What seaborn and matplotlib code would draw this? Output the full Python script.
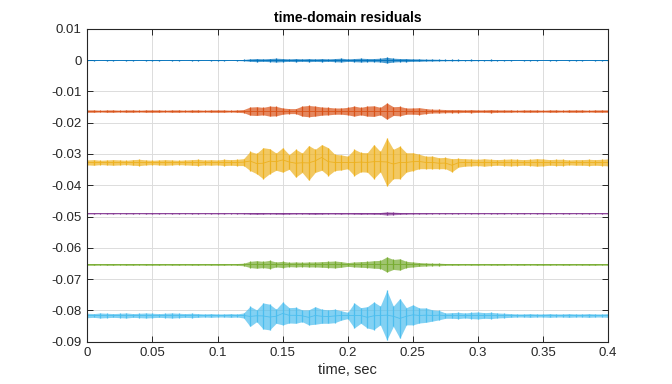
import numpy as np
import pandas as pd
import matplotlib
matplotlib.use("Agg")
import matplotlib.pyplot as plt
import seaborn as sns

# time grid of the envelope readings (every 5 ms)
t = np.linspace(0, 0.4, 81)

# trace baselines (vertical offsets)
offsets = [0.0, -0.0163, -0.0327, -0.049, -0.0653, -0.0816]
colors = ["#0072BD", "#D95319", "#EDB120", "#7E2F8E", "#77AC30", "#4DBEEE"]

# envelope half-widths, in units of 1e-3
blue_amp = ([0.15, 0.15, 0.1, 0.15, 0.15, 0.1, 0.15, 0.15, 0.1, 0.15, 0.15, 0.15,
             0.1, 0.15, 0.15, 0.1, 0.15, 0.15, 0.1, 0.15, 0.15, 0.15, 0.1, 0.15]
            + [0.2, 0.4, 0.5, 0.4, 0.5, 0.6, 0.5, 0.4, 0.5, 0.4, 0.5, 0.4, 0.5, 0.4,
               0.5, 0.6, 0.4, 0.5, 0.6, 0.5, 0.5, 0.6, 0.9, 0.6, 0.5, 0.5, 0.4, 0.4,
               0.3, 0.3, 0.25, 0.2]
            + [0.2, 0.2, 0.15, 0.2, 0.15, 0.15, 0.2, 0.15, 0.15, 0.15, 0.1, 0.15,
               0.15, 0.15, 0.1, 0.15, 0.15, 0.1, 0.15, 0.15, 0.15, 0.1, 0.15, 0.15, 0.15])

orange_amp = ([0.4, 0.4, 0.3, 0.4, 0.4, 0.3, 0.4, 0.4, 0.3, 0.4, 0.4, 0.4,
               0.3, 0.4, 0.4, 0.3, 0.4, 0.4, 0.3, 0.4, 0.4, 0.4, 0.3, 0.4]
              + [0.5, 1.3, 1.4, 1.2, 1.6, 1.5, 1.0, 0.8, 0.8, 1.6, 1.8, 1.6, 1.3, 1.2,
                 1.0, 1.0, 1.2, 1.6, 1.2, 1.6, 1.7, 1.2, 2.6, 1.4, 1.5, 1.0, 1.0, 1.1,
                 0.8, 0.6, 0.6, 0.5]
              + [0.5, 0.5, 0.4, 0.5, 0.4, 0.4, 0.5, 0.4, 0.4, 0.4, 0.3, 0.4, 0.4,
                 0.4, 0.3, 0.4, 0.4, 0.3, 0.4, 0.4, 0.4, 0.3, 0.4, 0.4, 0.4])

yellow_hi = ([0.8, 0.9, 0.7, 0.8, 0.9, 0.8, 0.7, 0.9, 1.0, 0.8, 0.7, 0.8,
              0.9, 0.8, 0.7, 0.8, 0.9, 1.0, 0.8, 0.9, 0.8, 1.0, 0.9, 1.0]
             + [1.2, 3.5, 2.9, 4.7, 4.4, 3.0, 4.7, 2.5, 4.2, 3.0, 5.4, 4.2, 5.7, 4.7,
                2.6, 2.4, 2.0, 4.2, 3.2, 3.1, 5.7, 3.5, 7.8, 4.2, 5.2, 3.1, 3.1, 2.6,
                2.0, 2.0, 1.5, 1.6, 1.2, 1.3, 1.2]
             + [1.1, 1.0, 1.2, 1.0, 0.9, 1.0, 1.1, 1.0, 0.9, 1.0, 1.2, 1.1, 0.9,
                1.0, 1.0, 0.8, 0.9, 0.9, 1.0, 0.9, 1.0, 1.1])
yellow_lo = ([0.8, 0.9, 0.7, 0.8, 0.9, 0.8, 0.7, 0.9, 1.0, 0.8, 0.7, 0.8,
              0.9, 0.8, 0.7, 0.8, 0.9, 1.0, 0.8, 0.9, 0.8, 1.0, 0.9, 1.0]
             + [1.0, 2.6, 3.6, 5.2, 3.6, 2.5, 3.1, 2.2, 4.7, 3.2, 5.7, 3.2, 2.5, 4.2,
                2.6, 2.4, 2.0, 4.2, 3.0, 3.1, 5.2, 3.0, 7.5, 5.2, 5.2, 3.1, 2.6, 2.0,
                2.0, 2.0, 2.0, 2.0, 3.0, 1.5, 1.2]
             + [1.1, 1.0, 1.2, 1.0, 0.9, 1.0, 1.1, 1.0, 0.9, 1.0, 1.2, 1.1, 0.9,
                1.0, 1.0, 0.8, 0.9, 0.9, 1.0, 0.9, 1.0, 1.1])

purple_amp = ([0.15, 0.15, 0.1, 0.15, 0.15, 0.1, 0.15, 0.15, 0.1, 0.15, 0.15, 0.15,
               0.1, 0.15, 0.15, 0.1, 0.15, 0.15, 0.1, 0.15, 0.15, 0.15, 0.1, 0.15]
              + [0.15, 0.25, 0.3, 0.25, 0.2, 0.25, 0.3, 0.25, 0.2, 0.2, 0.25, 0.3,
                 0.25, 0.2, 0.2, 0.25, 0.2, 0.25, 0.3, 0.25, 0.3, 0.3, 0.5, 0.4,
                 0.3, 0.25, 0.2, 0.2, 0.2, 0.15, 0.15, 0.15]
              + [0.15, 0.15, 0.1, 0.15, 0.15, 0.1, 0.15, 0.15, 0.15, 0.1, 0.15,
                 0.15, 0.1, 0.15, 0.15, 0.15, 0.1, 0.15, 0.15, 0.1, 0.15, 0.15,
                 0.1, 0.15, 0.15])

green_amp = ([0.3, 0.3, 0.25, 0.3, 0.3, 0.25, 0.3, 0.3, 0.25, 0.3, 0.3, 0.3,
              0.25, 0.3, 0.3, 0.25, 0.3, 0.3, 0.25, 0.3, 0.3, 0.3, 0.25, 0.3]
             + [0.4, 1.0, 1.2, 1.0, 1.3, 0.8, 1.0, 0.7, 0.8, 0.7, 0.8, 0.8, 0.9, 1.0,
                1.1, 0.9, 0.6, 0.8, 0.9, 1.0, 1.2, 1.3, 2.4, 1.6, 1.8, 1.0, 0.8, 0.6,
                0.5, 0.4, 0.4, 0.3]
             + [0.3, 0.3, 0.25, 0.3, 0.3, 0.25, 0.3, 0.3, 0.3, 0.25, 0.3, 0.3,
                0.25, 0.3, 0.3, 0.3, 0.25, 0.3, 0.3, 0.25, 0.3, 0.3, 0.3, 0.25, 0.3])

cyan_hi = ([0.7, 0.6, 0.8, 0.7, 0.6, 0.7, 0.8, 0.6, 0.7, 0.8, 0.7, 0.6,
            0.7, 0.8, 0.7, 0.6, 0.7, 0.6, 0.5, 0.6, 0.5, 0.5, 0.6, 0.5]
           + [0.8, 2.9, 1.8, 4.0, 3.6, 2.0, 4.3, 2.5, 2.6, 1.8, 1.8, 2.8, 2.0, 1.8,
              2.0, 1.5, 1.0, 4.0, 2.5, 2.8, 4.3, 3.0, 8.0, 3.0, 5.4, 2.5, 3.4, 2.4,
              2.4, 1.8, 1.6, 0.8]
           + [0.9, 1.0, 0.8, 1.0, 1.1, 0.9, 1.0, 0.8, 0.7, 0.6, 0.5, 0.5, 0.6,
              0.5, 0.5, 0.6, 0.5, 0.5, 0.6, 0.5, 0.5, 0.6, 0.5, 0.5, 0.6])
cyan_lo = ([0.7, 0.6, 0.8, 0.7, 0.6, 0.7, 0.8, 0.6, 0.7, 0.8, 0.7, 0.6,
            0.7, 0.8, 0.7, 0.6, 0.7, 0.6, 0.5, 0.6, 0.5, 0.5, 0.6, 0.5]
           + [0.8, 3.5, 2.0, 4.3, 4.6, 2.5, 3.0, 2.4, 2.5, 2.0, 3.0, 2.8, 2.5, 2.5,
              2.3, 1.5, 1.0, 4.0, 2.5, 4.0, 4.5, 3.0, 7.8, 3.5, 7.3, 3.0, 3.0, 2.4,
              2.2, 1.8, 1.4, 0.9]
           + [0.9, 1.0, 0.8, 1.0, 1.1, 0.9, 1.0, 0.8, 0.7, 0.6, 0.5, 0.5, 0.6,
              0.5, 0.5, 0.6, 0.5, 0.5, 0.6, 0.5, 0.5, 0.6, 0.5, 0.5, 0.6])

uppers = [blue_amp, orange_amp, yellow_hi, purple_amp, green_amp, cyan_hi]
lowers = [blue_amp, orange_amp, yellow_lo, purple_amp, green_amp, cyan_lo]

yticks = [0.01, 0, -0.01, -0.02, -0.03, -0.04, -0.05, -0.06, -0.07, -0.08, -0.09]
xticks = [0, 0.05, 0.1, 0.15, 0.2, 0.25, 0.3, 0.35, 0.4]

# long-form table: two readings (top / bottom of envelope) per time step
rows = []
for k in range(6):
    for ti, hi, lo in zip(t, uppers[k], lowers[k]):
        rows.append({"t": ti, "v": offsets[k] + hi * 1e-3, "trace": k})
        rows.append({"t": ti, "v": offsets[k] - lo * 1e-3, "trace": k})
df = pd.DataFrame(rows)

sns.set_theme(style="whitegrid")
plt.rcParams["font.family"] = ["Liberation Sans", "DejaVu Sans"]

fig = plt.figure(figsize=(6.72, 3.84), dpi=100)
ax = fig.add_axes([0.13, 0.11, 0.775, 0.815])

# band = envelope of the residual, mean line = baseline
sns.lineplot(data=df, x="t", y="v", hue="trace", palette=colors,
             estimator="mean", errorbar=("pi", 100), linewidth=0.6,
             err_kws={"alpha": 0.7, "linewidth": 0}, legend=False, ax=ax)

# solid strokes at each reading give the spiky look of the dense signal
for k in range(6):
    sub = df[df["trace"] == k]
    top = sub.groupby("t")["v"].max()
    bot = sub.groupby("t")["v"].min()
    ax.vlines(top.index, bot.values, top.values, color=colors[k], linewidth=0.9)

ax.set_xlim(0, 0.4)
ax.set_ylim(-0.09, 0.01)
ax.set_xticks(xticks)
ax.set_xticklabels([f"{v:g}" for v in xticks])
ax.set_yticks(yticks)
ax.set_yticklabels([f"{v:g}" for v in yticks])

ax.set_facecolor("white")
ax.grid(True, color="#dcdcdc", linewidth=0.7)
for s in ax.spines.values():
    s.set_visible(True)
    s.set_color("#262626")
    s.set_linewidth(0.8)
ax.tick_params(axis="both", direction="in", length=4, width=0.7, color="#262626",
               labelsize=9.5, labelcolor="#262626", top=True, right=True,
               bottom=True, left=True, pad=4)

ax.set_title("time-domain residuals", fontsize=10, fontweight="bold", color="black", pad=5)
ax.set_xlabel("time, sec", fontsize=10.5, color="#262626", labelpad=3)
ax.set_ylabel("")

fig.savefig("out.png", dpi=100)
